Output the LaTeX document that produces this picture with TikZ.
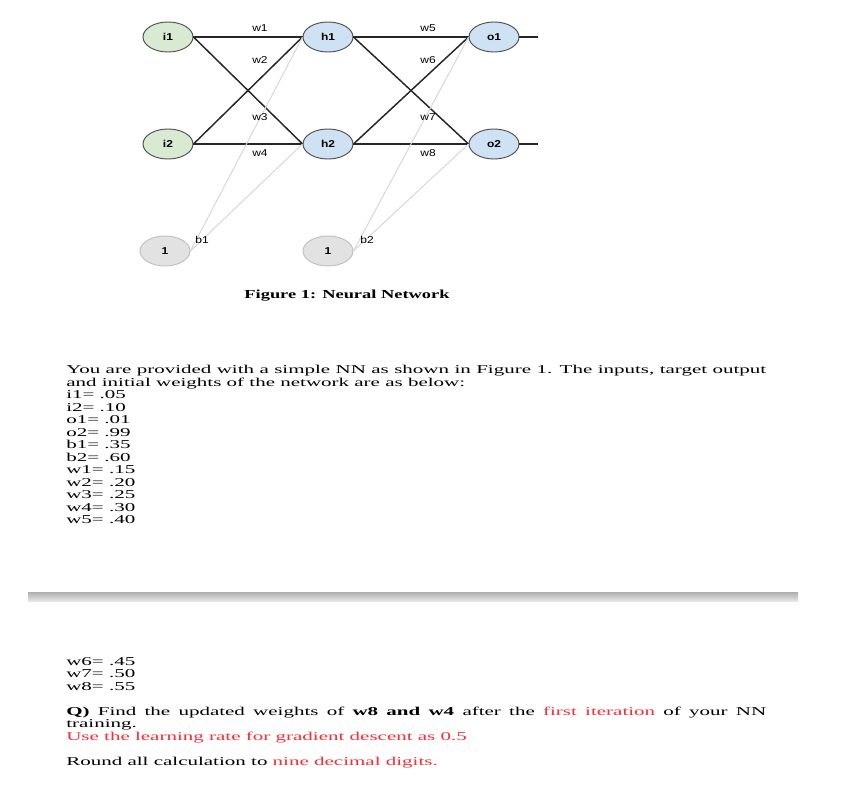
\documentclass[tikz,border=0pt]{standalone}
\usepackage{fontspec}
\setmainfont[FakeStretch=1.75]{Liberation Serif}
\setsansfont[FakeStretch=1.2]{Liberation Sans}
\newfontfamily\capfont[FakeStretch=1.5]{Liberation Serif}
\usetikzlibrary{shapes.geometric}

\begin{document}
\begin{tikzpicture}[
  x=0.75pt, y=-0.75pt,
  neuron/.style={ellipse, draw=black!70, line width=0.7pt, minimum width=37.5pt, minimum height=22.5pt, inner sep=0pt, font=\sffamily\bfseries\fontsize{7.5}{9}\selectfont},
  wire/.style={draw=black!85, line width=1.1pt},
  biaswire/.style={draw=black!15, line width=0.8pt},
  wlab/.style={font=\sffamily\fontsize{7.5}{9}\selectfont, inner sep=1pt},
  body/.style={anchor=north west, inner sep=0pt, text width=525pt, align=justify, font=\fontsize{9}{9.4}\selectfont}
]
\definecolor{nnIn}{RGB}{217,234,211}
\definecolor{nnHid}{RGB}{207,226,243}
\definecolor{nnBias}{RGB}{226,226,226}
\definecolor{qRed}{RGB}{245,45,55}

\useasboundingbox (0,0) rectangle (867,792);

\begin{scope}
  \node[neuron, fill=nnIn] (i1) at (168,37) {i1};
  \node[neuron, fill=nnIn] (i2) at (168,144) {i2};
  \node[neuron, fill=nnHid] (h1) at (328,37) {h1};
  \node[neuron, fill=nnHid] (h2) at (328,144) {h2};
  \node[neuron, fill=nnHid] (o1) at (494,37) {o1};
  \node[neuron, fill=nnHid] (o2) at (494,144) {o2};
  \node[neuron, fill=nnBias, draw=black!25] (bias1) at (165,251) {1};
  \node[neuron, fill=nnBias, draw=black!25] (bias2) at (328,251) {1};
  \coordinate (out1) at (538,37);
  \coordinate (out2) at (538,144);
  \foreach \a in {i1,i2} {
    \foreach \b in {h1,h2} {
      \draw[wire] (\a.east) -- (\b.west);
    }
  }
  \foreach \a in {h1,h2} {
    \foreach \b in {o1,o2} {
      \draw[wire] (\a.east) -- (\b.west);
    }
  }
  \foreach \b in {h1,h2} {
    \draw[biaswire] (bias1.east) -- (\b.west);
  }
  \foreach \b in {o1,o2} {
    \draw[biaswire] (bias2.east) -- (\b.west);
  }
  \draw[wire] (o1.east) -- (out1);
  \draw[wire] (o2.east) -- (out2);
  \foreach \n/\x/\y in {w1/260/28,w2/260/60,w3/260/117,w4/260/153,
                        w5/428/28,w6/428/60,w7/428/117,w8/428/153,
                        b1/202/240,b2/367/240} {
    \node[wlab] (l\n) at (\x,\y) {\n};
  }
  \node[font=\capfont\bfseries\fontsize{9.2}{11}\selectfont] (cap) at (347,296) {Figure 1: Neural Network};
\end{scope}

\begin{scope}
  \node[body] (given) at (66,365) {You are provided with a simple NN as shown in Figure 1. The inputs, target output\linebreak
    and initial weights of the network are as below:\\
    i1= .05\\ i2= .10\\ o1= .01\\ o2= .99\\ b1= .35\\ b2= .60\\
    w1= .15\\ w2= .20\\ w3= .25\\ w4= .30\\ w5= .40};
  \shade[top color=black!32, bottom color=black!10] (28,592) rectangle (798,601);
  \node[body] (task) at (66,657) {w6= .45\\ w7= .50\\ w8= .55\\[9.4pt]
    \textbf{Q)} Find the updated weights of \textbf{w8 and w4} after the \textcolor{qRed}{first iteration} of your NN\linebreak
    training.\\
    \textcolor{qRed}{Use the learning rate for gradient descent as 0.5}\\[9.4pt]
    Round all calculation to \textcolor{qRed}{nine decimal digits.}};
\end{scope}
\end{tikzpicture}
\end{document}
